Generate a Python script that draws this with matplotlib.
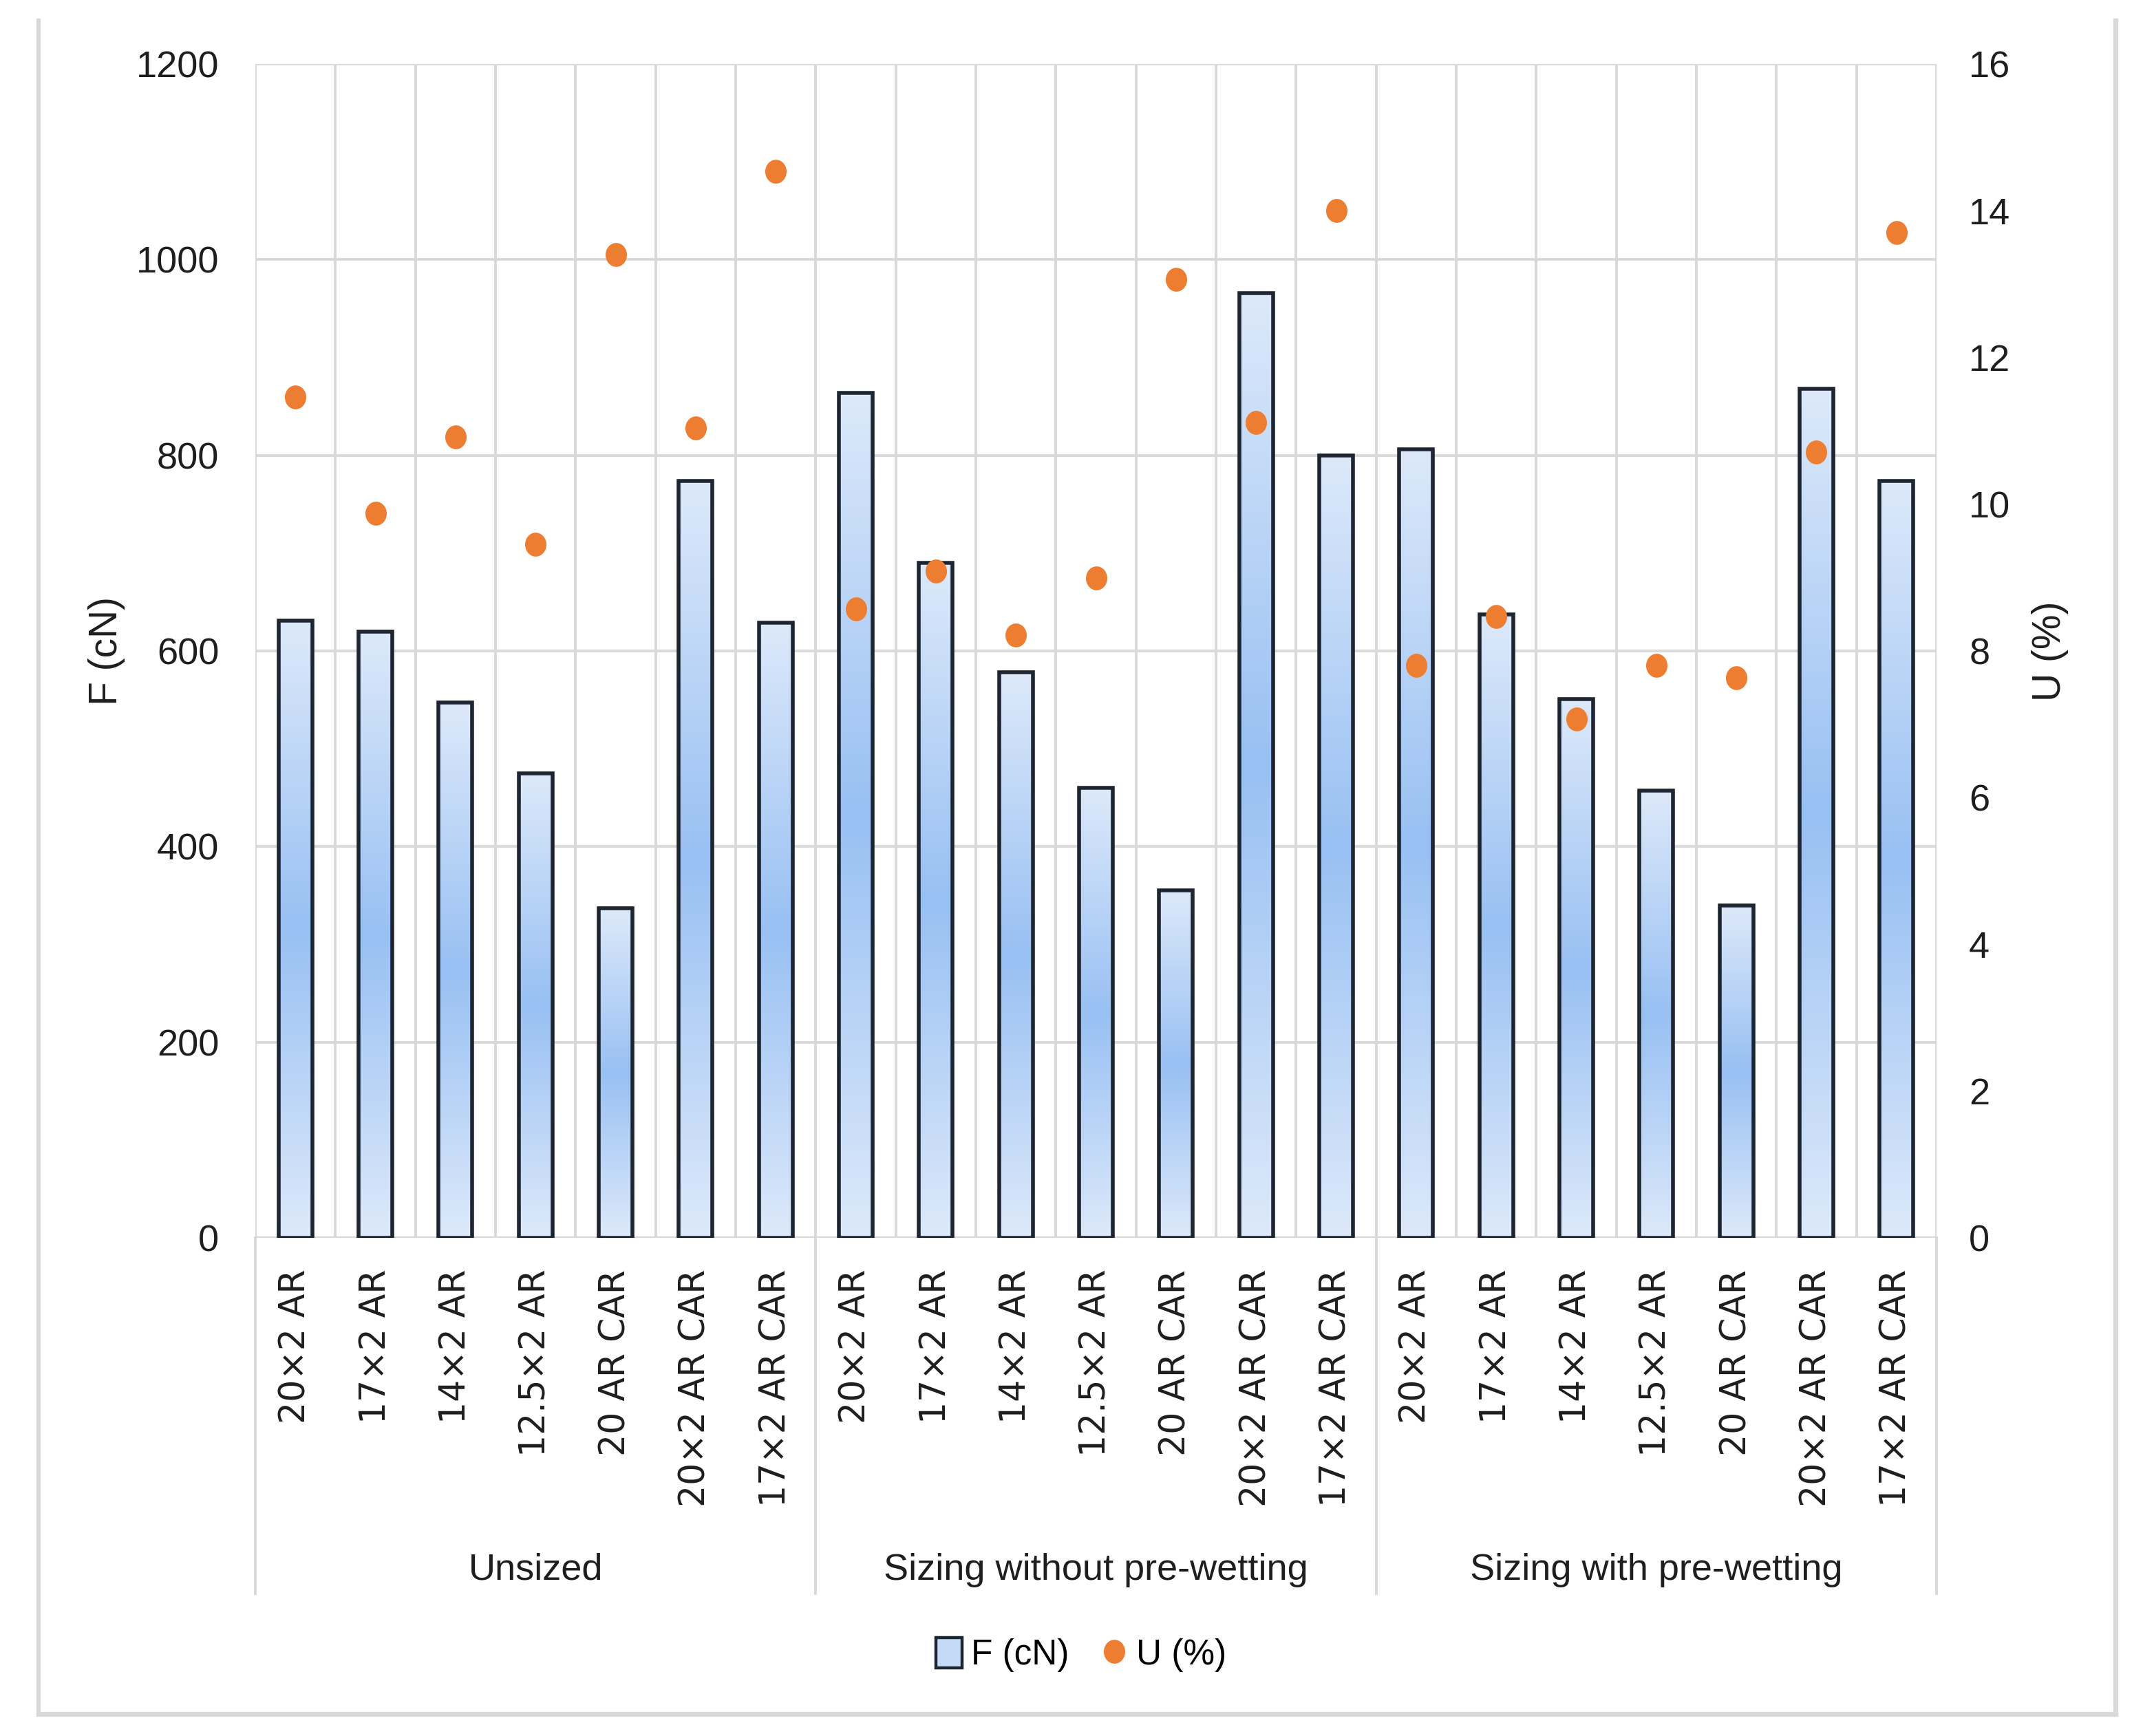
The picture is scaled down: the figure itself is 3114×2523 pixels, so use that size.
import numpy as np
import matplotlib
matplotlib.use('Agg')
import matplotlib.pyplot as plt
from matplotlib.patches import Patch
from matplotlib.lines import Line2D
from matplotlib.path import Path
import matplotlib.transforms as mtransforms
from matplotlib.colors import to_rgb

# ---------------- data ----------------
groups = ['Unsized', 'Sizing without pre-wetting', 'Sizing with pre-wetting']
samples = ['20×2 AR', '17×2 AR', '14×2 AR', '12.5×2 AR', '20 AR CAR', '20×2 AR CAR', '17×2 AR CAR']
F_unsized = [631, 620, 547, 475, 337, 774, 629]
F_no_prewet = [864, 690, 578, 460, 355, 966, 800]
F_prewet = [806, 637, 551, 457, 340, 868, 774]
U_unsized = [11.46, 9.88, 10.92, 9.45, 13.40, 11.04, 14.54]
U_no_prewet = [8.57, 9.09, 8.22, 8.99, 13.06, 11.11, 14.00]
U_prewet = [7.80, 8.47, 7.07, 7.80, 7.63, 10.71, 13.70]
left_ticks = [0, 200, 400, 600, 800, 1000, 1200]
right_ticks = [0, 2, 4, 6, 8, 10, 12, 14, 16]

F = F_unsized + F_no_prewet + F_prewet
U = U_unsized + U_no_prewet + U_prewet
labels = samples * 3
n = len(F)
x = np.arange(n)

# ---------------- style ----------------
W, H, DPI = 3114, 2523, 200
TXT = ['Liberation Sans Narrow', 'Liberation Sans', 'DejaVu Sans']
CAT = ['DejaVu Sans']
GRID = '#d9d9d9'
EDGE = '#1c2530'
ORANGE = '#ED7D31'
TCOL = '#1e1e1e'
LIGHT = np.array(to_rgb('#dde9fa'))
DARK = np.array(to_rgb('#98c0f3'))

fig = plt.figure(figsize=(W / DPI, H / DPI), dpi=DPI)
fig.patch.set_facecolor('white')

ax_l, ax_r, ax_t, ax_b = 371, 2814, 93, 1799
ax = fig.add_axes([ax_l / W, 1 - ax_b / H, (ax_r - ax_l) / W, (ax_b - ax_t) / H])
ax.set_xlim(-0.5, n - 0.5)
ax.set_ylim(0, 1200)
for s in ax.spines.values():
    s.set_visible(False)

# grid
ax.set_yticks(left_ticks)
ax.set_yticklabels([str(v) for v in left_ticks], family=TXT, fontsize=19.5, color=TCOL)
ax.tick_params(axis='y', length=0, pad=19)
ax.set_xticks(x)
ax.set_xticklabels(labels, rotation=90, family=CAT, fontsize=18.2, color=TCOL)
ax.tick_params(axis='x', which='both', length=0, pad=16.5)
ax.set_xticks(np.arange(-0.5, n, 1), minor=True)
ax.grid(axis='y', which='major', color=GRID, lw=1.4, zorder=0)
ax.grid(axis='x', which='minor', color=GRID, lw=1.4, zorder=0)
ax.set_axisbelow(True)

# bars with vertical gradient (light - dark - light)
bw = 0.42
bars = ax.bar(x, F, width=bw, facecolor='none', edgecolor=EDGE, linewidth=2.0, zorder=3)
t = np.linspace(0, 1, 256)
w = 1 - np.abs(2 * t - 1)
grad = (LIGHT[None, :] + (DARK - LIGHT)[None, :] * w[:, None])[:, None, :]
for b in bars:
    x0 = b.get_x()
    h = b.get_height()
    im = ax.imshow(grad, extent=[x0, x0 + bw, 0, h], aspect='auto', origin='upper',
                   zorder=2.5, interpolation='bicubic')
    im.set_clip_path(b)

# secondary axis
ax2 = ax.twinx()
ax2.set_ylim(0, 16)
ax2.set_yticks(right_ticks)
ax2.set_yticklabels([str(v) for v in right_ticks], family=TXT, fontsize=19.5, color=TCOL)
ax2.tick_params(axis='y', length=0, pad=17)
for s in ax2.spines.values():
    s.set_visible(False)

theta = np.linspace(0, 2 * np.pi, 60)
ell = Path(np.column_stack([np.cos(theta), 1.12 * np.sin(theta)]), closed=True)
ax2.plot(x, U, linestyle='none', marker=ell, markersize=12.5, color=ORANGE,
         markeredgewidth=0, zorder=5)

# bottom axis line
ax.axhline(0, color=GRID, lw=1.6, zorder=1)

# group separators and labels
trans = mtransforms.blended_transform_factory(ax.transData, ax.transAxes)
sep_bottom = -(2316 - ax_b) / (ax_b - ax_t)
for k in range(len(groups) + 1):
    xs = -0.5 + k * len(samples)
    ax.add_line(Line2D([xs, xs], [0, sep_bottom], transform=trans, color=GRID,
                       lw=1.4, clip_on=False))
gy = -(2282 - ax_b) / (ax_b - ax_t)
for k, g in enumerate(groups):
    xc = k * len(samples) + (len(samples) - 1) / 2
    ax.text(xc, gy, g, transform=trans, ha='center', va='center',
            family=TXT, fontsize=19.5, color=TCOL)

# axis titles
yc = 1 - (ax_t + ax_b) / 2 / H
fig.text(155 / W, yc, 'F (cN)', rotation=90, ha='center', va='center',
         family=TXT, fontsize=20.5, color=TCOL)
fig.text(2979 / W, yc, 'U (%)', rotation=90, ha='center', va='center',
         family=TXT, fontsize=20.5, color=TCOL)

# legend
handles = [Patch(facecolor='#c4daf6', edgecolor=EDGE, linewidth=1.6),
           Line2D([], [], linestyle='none', marker=ell, markersize=12.5, color=ORANGE,
                  markeredgewidth=0)]
fig.legend(handles, ['F (cN)', 'U (%)'], loc='center', bbox_to_anchor=(1571 / W, 1 - 2405 / H),
           ncol=2, frameon=False, prop={'family': TXT, 'size': 18.5},
           handlelength=0.75, handleheight=0.95, handletextpad=0.25, columnspacing=0.9)

# outer frame
fc = '#d9d9d9'
fl, fr, ft, fb = 56, 3074, 30, 2491
fig.add_artist(Line2D([fl / W, fl / W], [1 - ft / H, 1 - fb / H], transform=fig.transFigure, color=fc, lw=2.2))
fig.add_artist(Line2D([fr / W, fr / W], [1 - ft / H, 1 - fb / H], transform=fig.transFigure, color=fc, lw=2.6))
fig.add_artist(Line2D([fl / W, fr / W], [1 - fb / H, 1 - fb / H], transform=fig.transFigure, color=fc, lw=2.6))

fig.savefig('out.png', dpi=DPI, facecolor='white')
